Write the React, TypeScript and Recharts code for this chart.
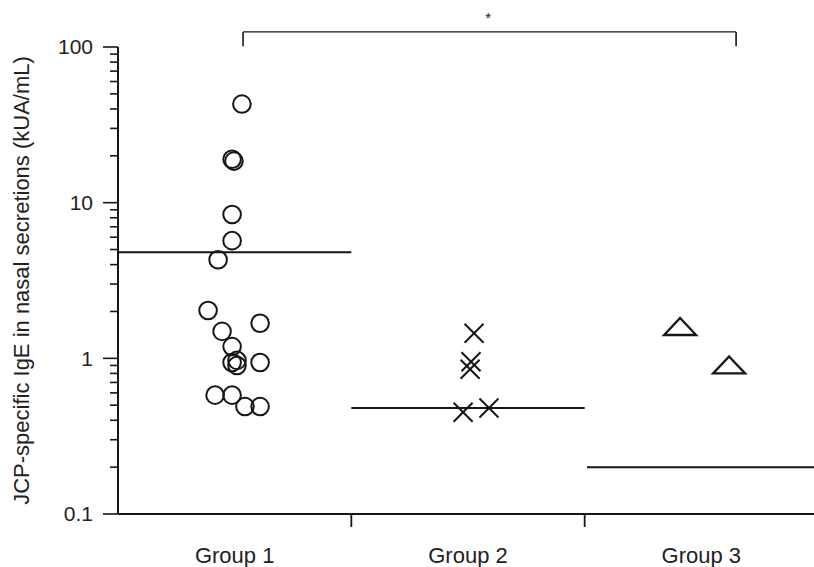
import React from 'react'
import {
  ScatterChart,
  Scatter,
  XAxis,
  YAxis,
  ReferenceLine,
  ReferenceDot,
} from 'recharts'

const groups = ['Group 1', 'Group 2', 'Group 3']

// x is the position inside the category band (band n spans n-1 .. n)
const group1X = [0.531, 0.489, 0.497, 0.489, 0.489, 0.429, 0.386, 0.609, 0.446, 0.489, 0.489, 0.51, 0.51, 0.609, 0.416, 0.489, 0.544, 0.609]
const group1Y = [43, 19, 18.5, 8.4, 5.7, 4.3, 2.03, 1.68, 1.49, 1.19, 0.94, 0.97, 0.9, 0.94, 0.58, 0.58, 0.49, 0.49]

const group2X = [1.526, 1.513, 1.509, 1.479, 1.59]
const group2Y = [1.45, 0.95, 0.85, 0.45, 0.48]

const group3X = [2.409, 2.619]
const group3Y = [1.59, 0.9]

const medians = [4.8, 0.48, 0.2]
const medianSpans = [[0, 1.0], [1.0, 2.0], [2.01, 3]]

const yMajor = [0.1, 1, 10, 100]
const yMinor = [
  0.2, 0.3, 0.4, 0.5, 0.6, 0.7, 0.8, 0.9,
  2, 3, 4, 5, 6, 7, 8, 9,
  20, 30, 40, 50, 60, 70, 80, 90,
]
const minorTickLen = 0.034 // in x units, reaches left of the axis
const xTicks = [0.5, 1, 1.5, 2, 2.5]

// significance bracket Group 1 vs Group 3
const bracketX = [0.536, 2.649]
const bracketTop = 125
const bracketFoot = 101
const starPos = { x: 1.586, y: 155 }

const ink = '#161616'
const font = '"Liberation Sans", Arial, Helvetica, sans-serif'

const toPoints = (xs: number[], ys: number[]) => xs.map((x, i) => ({ x, y: ys[i] }))

const OpenCircle = (props: any) => (
  <circle cx={props.cx} cy={props.cy} r={8.8} fill="none" stroke={ink} strokeWidth={2} />
)

const Cross = (props: any) => {
  const { cx, cy } = props
  const d = 9.5
  return (
    <g stroke={ink} strokeWidth={2}>
      <line x1={cx - d} y1={cy - d} x2={cx + d} y2={cy + d} />
      <line x1={cx - d} y1={cy + d} x2={cx + d} y2={cy - d} />
    </g>
  )
}

const Triangle = (props: any) => {
  const { cx, cy } = props
  return (
    <polygon
      points={`${cx},${cy - 9} ${cx + 16},${cy + 8} ${cx - 16},${cy + 8}`}
      fill="none"
      stroke={ink}
      strokeWidth={2.3}
    />
  )
}

const renderYTick = (props: any) => {
  const { x, y, payload } = props
  return (
    <g key={`yt-${payload.value}`}>
      <line x1={x - 15} y1={y} x2={x} y2={y} stroke={ink} strokeWidth={1.6} />
      <text x={x - 25} y={y} dy="0.35em" textAnchor="end" fontSize={21} fontFamily={font} fill="#222">
        {payload.value}
      </text>
    </g>
  )
}

const renderXTick = (props: any) => {
  const { x, y, payload } = props
  const v = payload.value
  if (Number.isInteger(v)) {
    return <line key={`xt-${v}`} x1={x} y1={y} x2={x} y2={y + 13} stroke={ink} strokeWidth={1.8} />
  }
  return (
    <text key={`xt-${v}`} x={x} y={y + 49} textAnchor="middle" fontSize={22} fontFamily={font} fill="#222">
      {groups[Math.floor(v)]}
    </text>
  )
}

const YTitle = (props: any) => {
  const vb = props.viewBox || {}
  const cx = (vb.x || 0) + 21
  const cy = (vb.y || 0) + (vb.height || 0) / 2
  return (
    <text
      x={cx}
      y={cy}
      transform={`rotate(-90, ${cx}, ${cy})`}
      textAnchor="middle"
      dominantBaseline="central"
      fontSize={22}
      fontFamily={font}
      fill="#222"
    >
      JCP-specific IgE in nasal secretions (kUA/mL)
    </text>
  )
}

const Star = (props: any) => (
  <text x={props.cx} y={props.cy} dy="0.35em" textAnchor="middle" fontSize={15} fontFamily={font} fill={ink}>
    *
  </text>
)

export default function App() {
  return (
    <div style={{ position: 'absolute', left: 0, top: 0, width: 814, height: 567, overflow: 'hidden', background: '#fff' }}>
      <ScatterChart width={820} height={567} margin={{ top: 47, right: 2, bottom: 8, left: 0 }}>
        <XAxis
          type="number"
          dataKey="x"
          domain={[0, 3]}
          ticks={xTicks}
          interval={0}
          minTickGap={0}
          tickLine={false}
          tickSize={0}
          tickMargin={0}
          tick={renderXTick}
          axisLine={{ stroke: ink, strokeWidth: 2 }}
          height={45}
        />
        <YAxis
          type="number"
          dataKey="y"
          scale="log"
          domain={[0.1, 100]}
          ticks={yMajor}
          interval={0}
          minTickGap={0}
          tickLine={false}
          tickSize={0}
          tickMargin={0}
          tick={renderYTick}
          axisLine={{ stroke: ink, strokeWidth: 2 }}
          width={118}
          label={<YTitle />}
        />
        {yMinor.map((v) => (
          <ReferenceLine
            key={`minor-${v}`}
            segment={[{ x: -minorTickLen, y: v }, { x: 0, y: v }]}
            stroke={ink}
            strokeWidth={1.6}
            ifOverflow="visible"
          />
        ))}
        {medians.map((m, i) => (
          <ReferenceLine
            key={`med-${i}`}
            segment={[{ x: medianSpans[i][0], y: m }, { x: medianSpans[i][1], y: m }]}
            stroke={ink}
            strokeWidth={2}
            ifOverflow="visible"
          />
        ))}
        <ReferenceLine
          segment={[{ x: bracketX[0], y: bracketTop }, { x: bracketX[1], y: bracketTop }]}
          stroke={ink}
          strokeWidth={1.4}
          ifOverflow="visible"
        />
        {bracketX.map((bx, i) => (
          <ReferenceLine
            key={`leg-${i}`}
            segment={[{ x: bx, y: bracketTop }, { x: bx, y: bracketFoot }]}
            stroke={ink}
            strokeWidth={1.6}
            ifOverflow="visible"
          />
        ))}
        <ReferenceDot x={starPos.x} y={starPos.y} r={0} ifOverflow="visible" shape={<Star />} />
        <Scatter data={toPoints(group1X, group1Y)} shape={<OpenCircle />} isAnimationActive={false} />
        <Scatter data={toPoints(group2X, group2Y)} shape={<Cross />} isAnimationActive={false} />
        <Scatter data={toPoints(group3X, group3Y)} shape={<Triangle />} isAnimationActive={false} />
      </ScatterChart>
    </div>
  )
}
